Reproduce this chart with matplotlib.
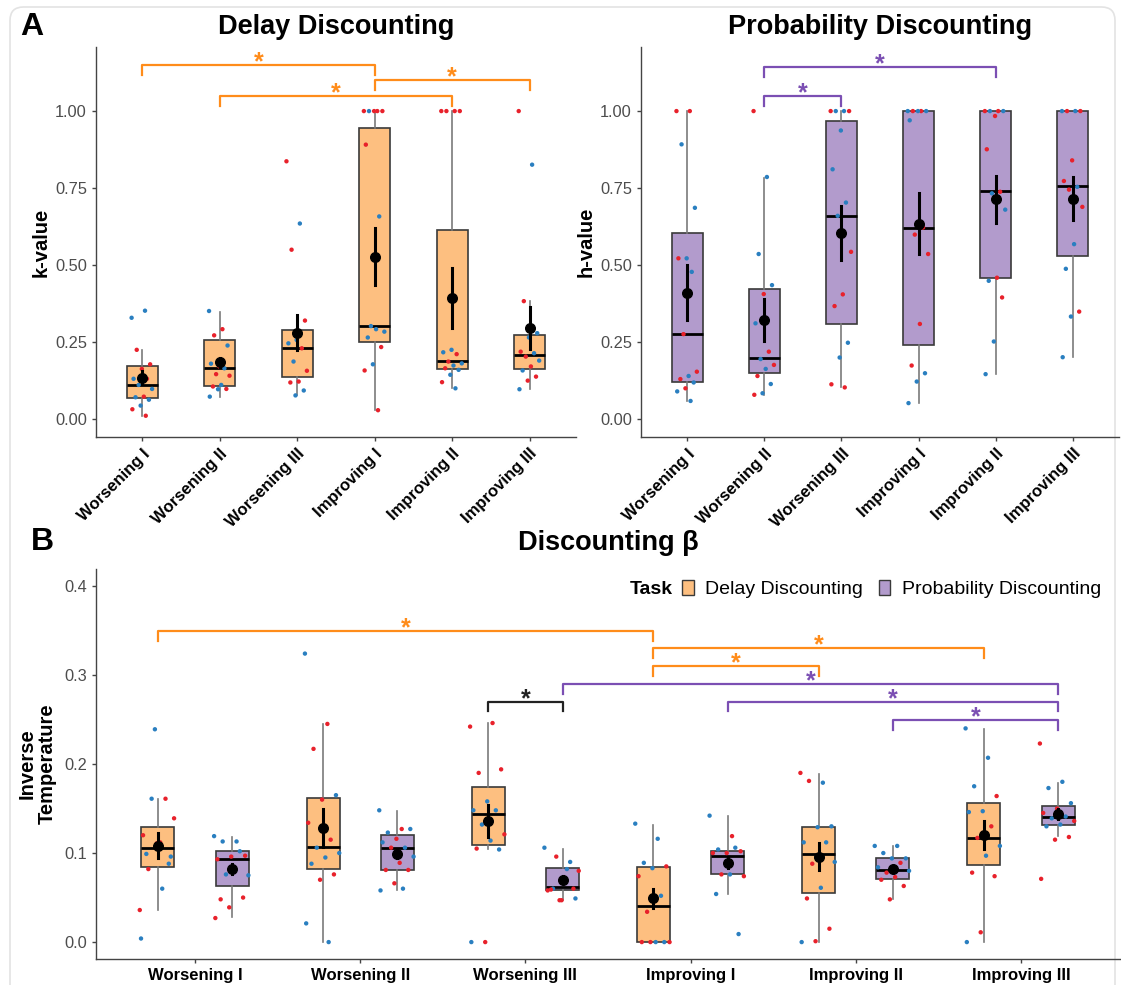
import numpy as np
import matplotlib.pyplot as plt
from matplotlib.patches import FancyBboxPatch, Patch

plt.rcParams['font.family'] = ['Liberation Sans', 'DejaVu Sans']

groups = ["Worsening I", "Worsening II", "Worsening III",
          "Improving I", "Improving II", "Improving III"]

# ---- panel A: delay discounting (k-value) ----
dd_q1 = [0.067, 0.109, 0.138, 0.251, 0.162, 0.162]
dd_med = [0.111, 0.165, 0.230, 0.302, 0.188, 0.208]
dd_q3 = [0.171, 0.257, 0.289, 0.945, 0.613, 0.273]
dd_wlo = [0.011, 0.073, 0.079, 0.030, 0.100, 0.097]
dd_whi = [0.225, 0.349, 0.320, 1.000, 1.000, 0.383]
dd_mean = [0.135, 0.184, 0.281, 0.527, 0.392, 0.297]
dd_se = [0.022, 0.016, 0.056, 0.093, 0.097, 0.068]
dd_pts = [
    [0.329, 0.352, 0.225, 0.178, 0.163, 0.131, 0.131, 0.111, 0.098, 0.073, 0.071, 0.063, 0.044, 0.032, 0.011],
    [0.351, 0.292, 0.272, 0.239, 0.171, 0.180, 0.165, 0.146, 0.141, 0.111, 0.106, 0.098, 0.097, 0.073],
    [0.837, 0.635, 0.550, 0.320, 0.257, 0.246, 0.230, 0.187, 0.157, 0.122, 0.119, 0.093, 0.077],
    [1.0, 1.0, 1.0, 1.0, 1.0, 0.891, 0.658, 0.302, 0.284, 0.292, 0.265, 0.234, 0.178, 0.158, 0.029],
    [1.0, 1.0, 1.0, 1.0, 0.225, 0.217, 0.211, 0.187, 0.181, 0.174, 0.165, 0.160, 0.144, 0.120, 0.100],
    [1.0, 0.826, 0.383, 0.279, 0.265, 0.219, 0.214, 0.203, 0.190, 0.171, 0.158, 0.138, 0.125, 0.097],
]
dd_cols = ["bbrrrbrbbrbbbrr", "brrbrbbrrbrrbb", "rbrrbbrbrrrbb",
           "rrbrrrbbbbbrbrr", "rrrrbbrrbbrbbrb", "rbrbbrbrbrbrrb"]

# ---- panel A: probability discounting (h-value) ----
pd_q1 = [0.122, 0.151, 0.309, 0.241, 0.457, 0.529]
pd_med = [0.276, 0.198, 0.659, 0.622, 0.740, 0.756]
pd_q3 = [0.603, 0.421, 0.968, 1.000, 1.000, 1.000]
pd_wlo = [0.059, 0.079, 0.103, 0.052, 0.146, 0.201]
pd_whi = [1.000, 0.783, 1.000, 1.000, 1.000, 1.000]
pd_mean = [0.410, 0.322, 0.605, 0.635, 0.714, 0.716]
pd_se = [0.089, 0.068, 0.087, 0.098, 0.076, 0.070]
pd_pts = [
    [1.0, 1.0, 0.892, 0.686, 0.522, 0.522, 0.478, 0.276, 0.154, 0.140, 0.130, 0.119, 0.100, 0.090, 0.059],
    [1.0, 0.786, 0.536, 0.435, 0.406, 0.311, 0.219, 0.195, 0.176, 0.163, 0.140, 0.114, 0.084, 0.079],
    [1.0, 1.0, 1.0, 1.0, 0.937, 0.811, 0.703, 0.660, 0.543, 0.405, 0.367, 0.248, 0.200, 0.113, 0.103],
    [1.0, 1.0, 1.0, 1.0, 1.0, 0.970, 0.622, 0.599, 0.536, 0.309, 0.174, 0.149, 0.122, 0.052],
    [1.0, 1.0, 1.0, 1.0, 0.984, 0.876, 0.738, 0.733, 0.680, 0.459, 0.449, 0.395, 0.252, 0.146],
    [1.0, 1.0, 1.0, 1.0, 0.840, 0.773, 0.754, 0.745, 0.689, 0.568, 0.488, 0.349, 0.333, 0.201],
]
pd_cols = ["rrbbbrbrrbrbrbb", "rbbbrbrbrbrbbr", "rbbrbbbbrrrbbrr",
           "brrbbbrrrrrbbb", "rrbbrrrbbrbrbb", "bbrrrrbrrbbrbb"]

# ---- panel B: inverse temperature, delay task ----
bd_q1 = [0.084, 0.082, 0.109, 0.000, 0.055, 0.087]
bd_med = [0.106, 0.107, 0.144, 0.041, 0.099, 0.117]
bd_q3 = [0.129, 0.162, 0.174, 0.084, 0.129, 0.156]
bd_wlo = [0.036, 0.000, 0.105, 0.000, 0.000, 0.000]
bd_whi = [0.161, 0.245, 0.246, 0.132, 0.189, 0.239]
bd_mean = [0.108, 0.128, 0.136, 0.049, 0.096, 0.120]
bd_se = [0.014, 0.021, 0.018, 0.011, 0.015, 0.016]
bd_pts = [
    [0.036, 0.060, 0.082, 0.096, 0.111, 0.120, 0.161, 0.161, 0.139, 0.112, 0.099, 0.088, 0.239, 0.004],
    [0.324, 0.245, 0.217, 0.165, 0.160, 0.134, 0.115, 0.106, 0.100, 0.095, 0.088, 0.076, 0.070, 0.021, 0.0],
    [0.242, 0.246, 0.190, 0.194, 0.158, 0.148, 0.148, 0.132, 0.121, 0.114, 0.105, 0.104, 0.0, 0.0],
    [0.133, 0.116, 0.089, 0.085, 0.083, 0.074, 0.052, 0.034, 0.0, 0.0, 0.0, 0.0, 0.0],
    [0.190, 0.179, 0.181, 0.130, 0.129, 0.112, 0.112, 0.088, 0.090, 0.061, 0.049, 0.015, 0.001, 0.0],
    [0.240, 0.207, 0.175, 0.164, 0.147, 0.146, 0.130, 0.117, 0.108, 0.097, 0.078, 0.074, 0.011, 0.0],
]
bd_cols = ["rbrbrrrbrrbbbb", "brrbrrrbbbbrrbb", "rrrrbbbbrbrbrb",
           "bbbrbrbrrbrbr", "rbrbbbbrbbrrrb", "bbbrbbrrbbrrrb"]

# ---- panel B: inverse temperature, probability task ----
bp_q1 = [0.063, 0.081, 0.058, 0.076, 0.071, 0.131]
bp_med = [0.093, 0.106, 0.062, 0.097, 0.081, 0.141]
bp_q3 = [0.102, 0.120, 0.083, 0.102, 0.094, 0.153]
bp_wlo = [0.028, 0.058, 0.047, 0.054, 0.048, 0.119]
bp_whi = [0.118, 0.147, 0.105, 0.142, 0.108, 0.179]
bp_mean = [0.082, 0.099, 0.070, 0.089, 0.082, 0.144]
bp_se = [0.006, 0.005, 0.004, 0.006, 0.003, 0.006]
bp_pts = [
    [0.119, 0.113, 0.113, 0.097, 0.096, 0.093, 0.102, 0.076, 0.075, 0.082, 0.048, 0.050, 0.039, 0.027],
    [0.148, 0.127, 0.123, 0.127, 0.116, 0.112, 0.106, 0.106, 0.096, 0.089, 0.081, 0.081, 0.066, 0.058, 0.060],
    [0.106, 0.082, 0.060, 0.049, 0.047, 0.058, 0.090, 0.096, 0.080, 0.071, 0.059, 0.060, 0.047],
    [0.142, 0.119, 0.104, 0.102, 0.100, 0.100, 0.106, 0.076, 0.074, 0.076, 0.054, 0.009],
    [0.108, 0.108, 0.100, 0.094, 0.094, 0.084, 0.089, 0.078, 0.080, 0.073, 0.070, 0.063, 0.048],
    [0.223, 0.180, 0.173, 0.156, 0.150, 0.145, 0.141, 0.139, 0.136, 0.132, 0.130, 0.118, 0.115, 0.071],
]
bp_cols = ["bbbrrrbbbbrrrr", "brbbrbbrbrrrrbb", "bbbbrrbrrbrrr",
           "brbrrrbrrbbb", "bbbbbbrrbrrrr", "rbbbrrbbrbbrrr"]

# significance brackets: (group1, group2, height)
dd_sig = [(1, 4, 1.149), (4, 6, 1.100), (2, 5, 1.050)]
pd_sig = [(2, 5, 1.143), (2, 3, 1.049)]
# panel B: (group1, task1, group2, task2, height), task 0 = delay, 1 = probability
b_sig = [(1, 0, 4, 0, 0.349), (4, 0, 6, 0, 0.330), (4, 0, 5, 0, 0.310),
         (3, 0, 3, 1, 0.270), (3, 1, 6, 1, 0.290), (4, 1, 6, 1, 0.270),
         (5, 1, 6, 1, 0.249)]

ORANGE = "#FDBF80"
PURPLE = "#B29BCC"
ORANGE_SIG = "#FF8C1A"
PURPLE_SIG = "#7B4FB3"
PT_COL = {"r": "#E8212B", "b": "#2A7FC0"}


def jitter(n, w):
    # fixed spread pattern so points don't overlap
    return w * (((np.arange(n) * 0.618034) % 1.0) * 2 - 1)


def draw_group(ax, pos, width, q1, med, q3, wlo, whi, mean, se, pts, cols, face, jw):
    stats = [dict(med=med, q1=q1, q3=q3, whislo=wlo, whishi=whi, fliers=[])]
    ax.bxp(stats, positions=[pos], widths=width, showcaps=False, patch_artist=True,
           boxprops=dict(facecolor=face, edgecolor="#3a3a3a", linewidth=1.2),
           medianprops=dict(color="black", linewidth=2.0),
           whiskerprops=dict(color="#7a7a7a", linewidth=1.2), manage_ticks=False)
    xs = pos + jitter(len(pts), jw)
    ax.scatter(xs, pts, s=10, c=[PT_COL[c] for c in cols], zorder=4, linewidths=0)
    ax.plot([pos, pos], [mean - se, mean + se], color="black", lw=2.2, zorder=5)
    ax.scatter([pos], [mean], s=48, color="black", zorder=6)


def bracket(ax, x1, x2, y, tip, color):
    ax.plot([x1, x1, x2, x2], [y - tip, y, y, y - tip], color=color, lw=1.6,
            clip_on=False, zorder=3)
    ax.annotate("*", xy=((x1 + x2) / 2, y), xytext=(0, -3), textcoords="offset points",
                ha="center", va="baseline", fontsize=18, fontweight="bold", color=color)


def style_axes(ax):
    for s in ["top", "right"]:
        ax.spines[s].set_visible(False)
    for s in ["left", "bottom"]:
        ax.spines[s].set_color("#444444")
        ax.spines[s].set_linewidth(1.0)
    ax.tick_params(axis="both", color="#444444", length=3, width=1.0)
    ax.tick_params(axis="y", labelsize=11.8, labelcolor="#4D4D4D")


fig = plt.figure(figsize=(11.21, 9.85), dpi=100)
card = FancyBboxPatch((10 / 1121, -0.02), 1105 / 1121, 1.0 - 7 / 985 + 0.02,
                      boxstyle="round,pad=0,rounding_size=0.012", mutation_aspect=1121 / 985,
                      transform=fig.transFigure, facecolor="white", edgecolor="#E3E3E3",
                      lw=1.2, zorder=-10)
fig.patches.append(card)

x = np.arange(1, len(groups) + 1)

# A left
ax1 = fig.add_axes([96 / 1121, 1 - 437 / 985, (576 - 96) / 1121, (437 - 47) / 985])
ax1.patch.set_alpha(0)
for i in range(len(groups)):
    draw_group(ax1, x[i], 0.4, dd_q1[i], dd_med[i], dd_q3[i], dd_wlo[i], dd_whi[i],
               dd_mean[i], dd_se[i], dd_pts[i], dd_cols[i], ORANGE, 0.14)
for g1, g2, h in dd_sig:
    bracket(ax1, g1, g2, h, 0.032, ORANGE_SIG)
ax1.set_xlim(0.4, 6.6)
ax1.set_ylim(-0.058, 1.208)
ax1.set_yticks([0, 0.25, 0.5, 0.75, 1.0])
ax1.set_yticklabels(["0.00", "0.25", "0.50", "0.75", "1.00"])
ax1.set_xticks(x)
ax1.set_xticklabels(groups, rotation=45, ha="right", rotation_mode="anchor",
                    fontsize=12, fontweight="bold")
ax1.set_ylabel("k-value", fontsize=14.5, fontweight="bold", labelpad=3)
style_axes(ax1)

# A right
ax2 = fig.add_axes([641 / 1121, 1 - 437 / 985, (1119 - 641) / 1121, (437 - 47) / 985])
ax2.patch.set_alpha(0)
for i in range(len(groups)):
    draw_group(ax2, x[i], 0.4, pd_q1[i], pd_med[i], pd_q3[i], pd_wlo[i], pd_whi[i],
               pd_mean[i], pd_se[i], pd_pts[i], pd_cols[i], PURPLE, 0.14)
for g1, g2, h in pd_sig:
    bracket(ax2, g1, g2, h, 0.032, PURPLE_SIG)
ax2.set_xlim(0.4, 6.6)
ax2.set_ylim(-0.058, 1.208)
ax2.set_yticks([0, 0.25, 0.5, 0.75, 1.0])
ax2.set_yticklabels(["0.00", "0.25", "0.50", "0.75", "1.00"])
ax2.set_xticks(x)
ax2.set_xticklabels(groups, rotation=45, ha="right", rotation_mode="anchor",
                    fontsize=12, fontweight="bold")
ax2.set_ylabel("h-value", fontsize=14.5, fontweight="bold", labelpad=3)
style_axes(ax2)

# B
ax3 = fig.add_axes([96 / 1121, 1 - 959 / 985, (1120 - 96) / 1121, (959 - 569) / 985])
ax3.patch.set_alpha(0)
dodge = 0.225
for i in range(len(groups)):
    draw_group(ax3, x[i] - dodge, 0.2, bd_q1[i], bd_med[i], bd_q3[i], bd_wlo[i], bd_whi[i],
               bd_mean[i], bd_se[i], bd_pts[i], bd_cols[i], ORANGE, 0.11)
    draw_group(ax3, x[i] + dodge, 0.2, bp_q1[i], bp_med[i], bp_q3[i], bp_wlo[i], bp_whi[i],
               bp_mean[i], bp_se[i], bp_pts[i], bp_cols[i], PURPLE, 0.11)
for g1, t1, g2, t2, h in b_sig:
    p1 = g1 + (dodge if t1 else -dodge)
    p2 = g2 + (dodge if t2 else -dodge)
    if t1 != t2:
        col = "#222222"
    else:
        col = PURPLE_SIG if t1 else ORANGE_SIG
    bracket(ax3, p1, p2, h, 0.011, col)
ax3.set_xlim(0.4, 6.6)
ax3.set_ylim(-0.019, 0.419)
ax3.set_yticks([0, 0.1, 0.2, 0.3, 0.4])
ax3.set_yticklabels(["0.0", "0.1", "0.2", "0.3", "0.4"])
ax3.set_xticks(x)
ax3.set_xticklabels(groups, fontsize=12, fontweight="bold")
ax3.set_ylabel("Inverse\nTemperature", fontsize=14.5, fontweight="bold", labelpad=5,
               linespacing=1.1)
style_axes(ax3)

handles = [Patch(facecolor=ORANGE, edgecolor="#3a3a3a"),
           Patch(facecolor=PURPLE, edgecolor="#3a3a3a")]
leg = fig.legend(handles, ["Delay Discounting", "Probability Discounting"], ncol=2,
                 loc="center left", bbox_to_anchor=(682 / 1121, 1 - 589 / 985), frameon=False,
                 fontsize=14, handlelength=0.6, handleheight=0.8, handletextpad=0.6,
                 columnspacing=0.8, borderaxespad=0, borderpad=0)
fig.text(630 / 1121, 1 - 589 / 985, "Task", fontsize=14, fontweight="bold",
         ha="left", va="center")

# titles and panel letters
fig.text(336 / 1121, 1 - 27 / 985, "Delay Discounting", fontsize=19.5, fontweight="bold",
         ha="center", va="center")
fig.text(880 / 1121, 1 - 27 / 985, "Probability Discounting", fontsize=19.5, fontweight="bold",
         ha="center", va="center")
fig.text(608 / 1121, 1 - 543 / 985, "Discounting β", fontsize=19.5, fontweight="bold",
         ha="center", va="center")
fig.text(32 / 1121, 1 - 27 / 985, "A", fontsize=23, fontweight="bold", ha="center", va="center")
fig.text(42 / 1121, 1 - 542 / 985, "B", fontsize=23, fontweight="bold", ha="center", va="center")

fig.savefig("out.png", dpi=100)
